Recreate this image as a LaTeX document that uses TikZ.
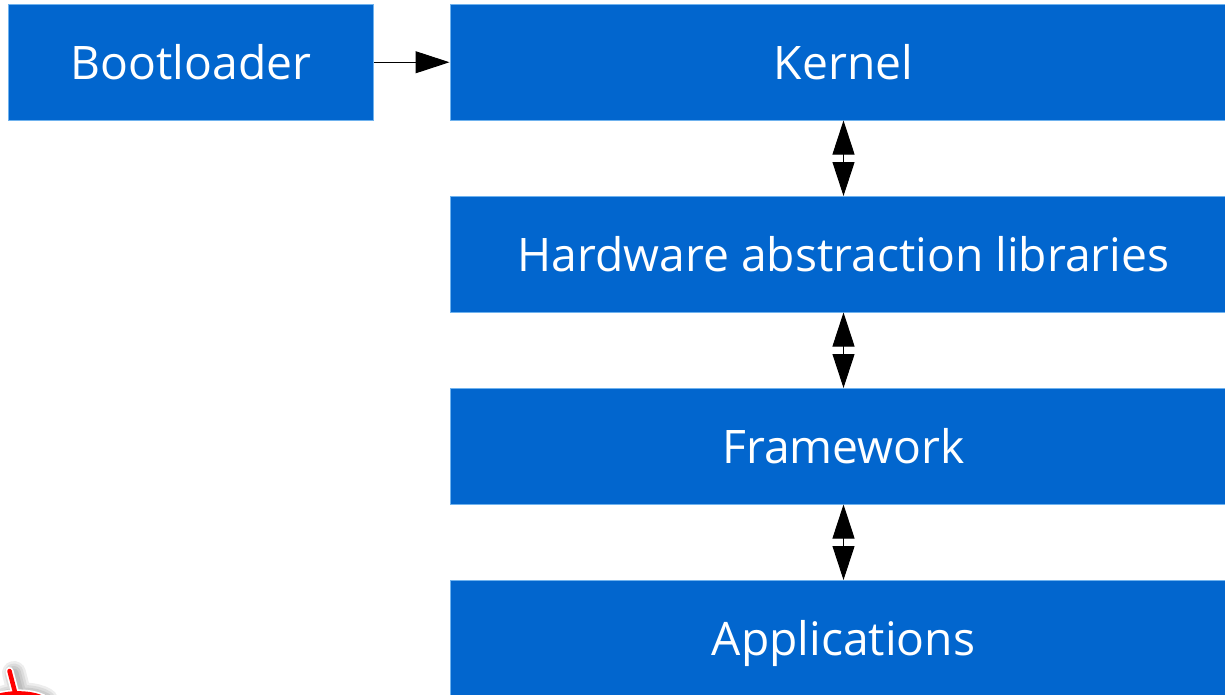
\documentclass[tikz,border=0pt]{standalone}
\usepackage{fontspec}
\setmainfont{Open Sans}
\usetikzlibrary{arrows.meta}
\definecolor{boxblue}{HTML}{0266CE}
\definecolor{boxedge}{HTML}{6FB2EE}
\tikzset{
  x=1pt,y=-1pt,
  block/.style={draw=boxedge,line width=1pt,fill=boxblue,text=white,inner sep=0pt,
    minimum height=115.5pt,text height=44.5pt,text depth=11pt,font=\fontsize{46.2}{54}\selectfont},
  wide/.style={block,minimum width=787pt},
  oneway/.style={line width=1pt,-{Triangle[length=34pt,width=22pt]}},
  twoway/.style={line width=1pt,{Triangle[length=34pt,width=22pt]}-{Triangle[length=34pt,width=22pt]}},
  planeline/.style={line cap=round},
  planehalo/.style={planeline,black,opacity=0.07}
}
\begin{document}
\begin{tikzpicture}
\useasboundingbox (0,0) rectangle (1225,694);
\clip (0,0) rectangle (1225,694);
\node[block,minimum width=365pt] (boot) at (191,62.25) {Bootloader};
\node[wide] (kernel) at (843.5,62.25) {Kernel};
\node[wide] (hal) at (843.5,254.25) {Hardware abstraction libraries};
\node[wide] (fw) at (843.5,446.25) {Framework};
\node[wide] (apps) at (843.5,638.25) {Applications};
\draw[oneway] (boot.east) -- (kernel.west);
\draw[twoway] (kernel.south) -- (hal.north);
\draw[twoway] (hal.south) -- (fw.north);
\draw[twoway] (fw.south) -- (apps.north);
% partial red mark at lower left
\foreach \w in {24,19,14,9}{
  \draw[planehalo,line width=\w pt] (14,673) -- (20,696) (2,698) .. controls (15,693) and (35,693) .. (46,700);
}
\draw[planeline,white,line width=8pt] (9.5,671) -- (15.5,694) (-2,696) .. controls (10,692.5) and (30,692) .. (43,698);
\draw[planeline,red,line width=4.5pt] (9.5,671) -- (15.5,694) (-2,696) .. controls (10,692.5) and (30,692) .. (43,698);
\end{tikzpicture}
\end{document}
